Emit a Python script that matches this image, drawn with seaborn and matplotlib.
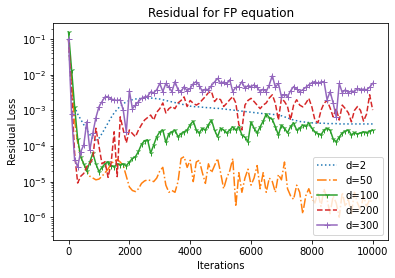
import numpy as np
import pandas as pd
import matplotlib
matplotlib.use("Agg")
import matplotlib.pyplot as plt
import seaborn as sns

# iterations, one point every 100 steps
iterations = np.arange(0, 10001, 100)

# values, stored as log10(residual)
log_d2 = [
    -1.0, -2.6, -2.9, -3.1, -3.25, -3.4, -3.55, -3.68, -3.78, -3.83,
    -3.78, -3.65, -3.5, -3.35, -3.2, -3.07, -2.97, -2.88, -2.81, -2.76,
    -2.72, -2.7, -2.68, -2.67, -2.66, -2.65, -2.65, -2.65, -2.66, -2.67,
    -2.68, -2.7, -2.72, -2.74, -2.76, -2.78, -2.8, -2.82, -2.84, -2.86,
    -2.88, -2.89, -2.9, -2.9, -2.91, -2.92, -2.92, -2.93, -2.94, -2.94,
    -2.95, -2.96, -2.97, -2.98, -2.99, -3.0, -3.01, -3.02, -3.03, -3.04,
    -3.05, -3.06, -3.07, -3.08, -3.09, -3.1, -3.1, -3.11, -3.12, -3.13,
    -3.15, -3.18, -3.21, -3.24, -3.27, -3.29, -3.31, -3.32, -3.33, -3.34,
    -3.35, -3.35, -3.36, -3.36, -3.36, -3.37, -3.37, -3.37, -3.37, -3.38,
    -3.38, -3.38, -3.38, -3.38, -3.38, -3.38, -3.38, -3.38, -3.38, -3.38,
    -3.38,
]
log_d50 = [
    -1.0, -2.2, -3.3, -3.9, -4.3, -4.5, -4.7, -4.85, -4.9, -4.95,
    -4.93, -4.85, -4.75, -4.65, -4.5, -4.42, -4.38, -4.45, -4.55, -4.85,
    -5.15, -5.25, -5.28, -5.2, -5.05, -4.98, -4.95, -4.97, -5.0, -4.9,
    -4.7, -4.6, -5.1, -5.3, -5.25, -5.3, -5.0, -4.35, -4.3, -4.6,
    -4.4, -5.0, -4.45, -4.4, -4.75, -5.05, -4.5, -4.75, -4.55, -4.35,
    -4.75, -5.2, -4.9, -4.7, -4.35, -5.7, -4.75, -5.3, -4.9, -4.65,
    -5.1, -4.9, -4.55, -5.2, -4.75, -5.3, -4.9, -5.0, -5.3, -4.8,
    -4.95, -4.45, -5.2, -5.4, -5.5, -5.1, -5.3, -5.9, -5.4, -5.2,
    -5.45, -5.6, -5.3, -5.7, -5.2, -5.5, -5.9, -5.4, -5.6, -6.0,
    -5.3, -5.7, -5.5, -5.9, -5.3, -5.6, -5.8, -5.4, -5.7, -5.5,
    -5.6,
]
log_d100 = [
    -0.8, -1.85, -2.9, -3.8, -4.3, -4.5, -4.7, -4.45, -4.2, -4.5,
    -4.72, -4.6, -4.5, -4.44, -4.55, -4.58, -4.5, -4.53, -4.5, -4.55,
    -4.45, -4.35, -4.3, -4.15, -3.95, -3.85, -3.83, -4.2, -3.97, -3.74,
    -3.6, -3.55, -3.9, -3.65, -3.6, -3.55, -3.74, -3.65, -3.6, -3.55,
    -3.4, -3.3, -3.55, -3.63, -3.5, -3.55, -3.4, -3.27, -3.55, -3.74,
    -3.5, -3.55, -3.63, -3.55, -3.46, -3.55, -3.46, -3.69, -3.75, -3.88,
    -3.32, -3.5, -3.63, -3.46, -3.3, -3.1, -3.2, -3.25, -3.46, -3.69,
    -3.41, -3.5, -3.63, -3.45, -3.35, -3.55, -3.5, -3.41, -3.45, -3.35,
    -3.5, -3.6, -3.65, -3.69, -3.55, -3.5, -3.55, -3.8, -3.88, -3.75,
    -3.63, -3.58, -3.55, -3.69, -3.62, -3.66, -3.63, -3.6, -3.63, -3.58,
    -3.55,
]
log_d200 = [
    -1.0, -2.5, -4.2, -5.04, -4.85, -4.77, -4.58, -4.48, -4.35, -3.5,
    -4.0, -4.5, -4.44, -4.88, -4.48, -3.6, -4.86, -3.18, -3.55, -3.91,
    -3.55, -3.65, -3.74, -3.55, -3.4, -3.27, -3.2, -3.13, -3.27, -3.05,
    -2.95, -2.79, -3.07, -2.95, -2.89, -2.95, -2.79, -2.72, -2.62, -2.89,
    -2.72, -2.8, -2.85, -2.8, -2.7, -2.61, -2.5, -2.47, -2.75, -2.65,
    -2.7, -2.89, -2.8, -2.7, -2.61, -2.79, -3.4, -3.55, -2.85, -2.72,
    -2.66, -2.75, -2.85, -2.95, -2.85, -2.79, -2.65, -2.56, -2.8, -3.27,
    -2.66, -2.75, -2.89, -3.27, -2.85, -2.7, -2.85, -2.9, -2.8, -2.66,
    -2.9, -3.27, -3.35, -3.0, -2.8, -2.72, -2.93, -3.18, -2.95, -3.27,
    -2.85, -2.95, -3.07, -3.32, -3.0, -2.89, -3.0, -3.3, -3.1, -2.56,
    -2.99,
]
log_d300 = [
    -1.0, -3.1, -4.39, -4.58, -4.16, -3.97, -3.32, -4.11, -3.63, -3.2,
    -2.9, -2.75, -2.62, -2.61, -2.68, -2.7, -2.72, -2.7, -3.0, -3.6,
    -2.45, -2.95, -2.85, -2.75, -2.66, -2.62, -2.6, -2.48, -2.5, -2.42,
    -2.24, -2.47, -2.24, -2.35, -2.47, -2.19, -2.42, -2.47, -2.33, -2.45,
    -2.38, -2.25, -2.19, -2.3, -2.47, -2.4, -2.42, -2.3, -2.2, -2.1,
    -2.24, -2.2, -2.25, -2.14, -2.47, -2.35, -2.33, -2.19, -2.38, -2.3,
    -2.33, -2.28, -2.35, -2.47, -2.4, -2.47, -2.28, -2.02, -2.35, -2.24,
    -2.61, -2.55, -2.61, -2.45, -2.33, -2.4, -2.47, -2.42, -2.35, -2.28,
    -2.22, -2.19, -2.24, -2.2, -2.19, -2.7, -2.47, -2.79, -3.18, -2.24,
    -2.5, -2.42, -2.5, -2.45, -2.47, -2.38, -2.42, -2.4, -2.42, -2.35,
    -2.24,
]

labels = ["d=2", "d=50", "d=100", "d=200", "d=300"]
series = [log_d2, log_d50, log_d100, log_d200, log_d300]
styles = [
    dict(ls=":", marker=None),
    dict(ls="-.", marker=None),
    dict(ls="-", marker="1"),
    dict(ls="--", marker=None),
    dict(ls="-", marker="+"),
]

fig = plt.figure(figsize=(395 / 72, 278 / 72), dpi=72)
ax = fig.add_axes([0.135, 0.137, 0.847, 0.781])

colors = sns.color_palette("tab10")
for k, (lab, vals, st) in enumerate(zip(labels, series, styles)):
    df = pd.DataFrame({"Iterations": iterations, "loss": 10.0 ** np.array(vals)})
    sns.lineplot(data=df, x="Iterations", y="loss", ax=ax, label=lab,
                 color=colors[k], linestyle=st["ls"], marker=st["marker"],
                 markersize=6, markeredgecolor=colors[k], markeredgewidth=1.0,
                 linewidth=1.5)

ax.set_yscale("log")
ax.set_xlim(-500, 10500)
ax.set_ylim(2.3e-7, 0.29)
ax.set_xticks([0, 2000, 4000, 6000, 8000, 10000])
ax.set_xlabel("Iterations")
ax.set_ylabel("Residual Loss")
ax.set_title("Residual for FP equation")
ax.legend(loc="lower right")

fig.savefig("out.png", dpi=72)
